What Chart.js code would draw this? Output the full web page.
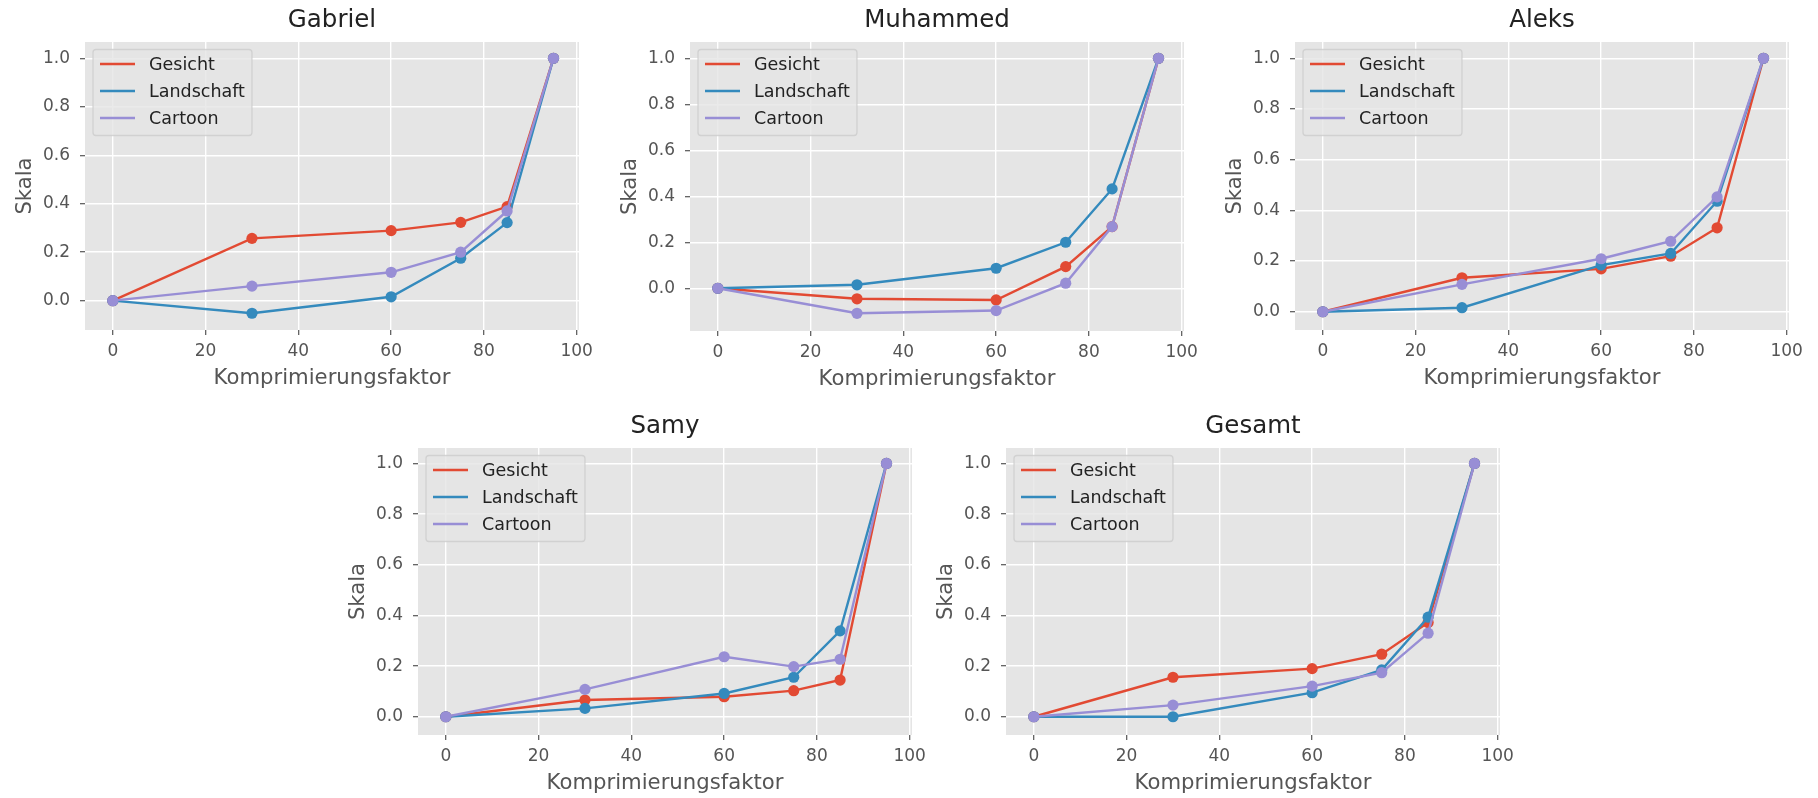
<!DOCTYPE html>
<html><head><meta charset="utf-8">
<script src="https://cdn.jsdelivr.net/npm/chart.js@4/dist/chart.umd.min.js"></script>
<style>
html,body{margin:0;padding:0;background:#fff;width:1818px;height:798px;overflow:hidden;position:relative}
canvas{position:absolute}
</style></head><body>
<canvas id="c0"></canvas><canvas id="c1"></canvas><canvas id="c2"></canvas><canvas id="c3"></canvas><canvas id="c4"></canvas>
<script>
// ---- data ----
const komprimierung = [0, 30, 60, 75, 85, 95];
const serienNamen = ['Gesicht', 'Landschaft', 'Cartoon'];
const titel = ['Gabriel', 'Muhammed', 'Aleks', 'Samy', 'Gesamt'];
const xTicks = [0, 20, 40, 60, 80, 100];
const yTicks = [0, 0.2, 0.4, 0.6, 0.8, 1.0];

const gabrielGesicht     = [0, 0.257, 0.289, 0.323, 0.388, 1.0];
const gabrielLandschaft  = [0, -0.052, 0.016, 0.175, 0.322, 1.0];
const gabrielCartoon     = [0, 0.060, 0.117, 0.200, 0.370, 1.0];
const muhammedGesicht    = [0, -0.046, -0.051, 0.094, 0.268, 1.0];
const muhammedLandschaft = [0, 0.015, 0.087, 0.200, 0.432, 1.0];
const muhammedCartoon    = [0, -0.109, -0.097, 0.022, 0.268, 1.0];
const aleksGesicht       = [0, 0.134, 0.169, 0.219, 0.331, 1.0];
const aleksLandschaft    = [0, 0.016, 0.184, 0.230, 0.436, 1.0];
const aleksCartoon       = [0, 0.108, 0.209, 0.278, 0.453, 1.0];
const samyGesicht        = [0, 0.066, 0.079, 0.103, 0.145, 1.0];
const samyLandschaft     = [0, 0.033, 0.092, 0.156, 0.339, 1.0];
const samyCartoon        = [0, 0.108, 0.237, 0.198, 0.227, 1.0];
const gesamtGesicht      = [0, 0.156, 0.190, 0.247, 0.372, 1.0];
const gesamtLandschaft   = [0, 0.000, 0.095, 0.185, 0.393, 1.0];
const gesamtCartoon      = [0, 0.046, 0.121, 0.174, 0.330, 1.0];

const serienProPanel = [
  [gabrielGesicht, gabrielLandschaft, gabrielCartoon],
  [muhammedGesicht, muhammedLandschaft, muhammedCartoon],
  [aleksGesicht, aleksLandschaft, aleksCartoon],
  [samyGesicht, samyLandschaft, samyCartoon],
  [gesamtGesicht, gesamtLandschaft, gesamtCartoon]
];

// ---- layout / style ----
const farben = ['#E24A33', '#348ABD', '#988ED5'];
const panels = [
  {L: 85,   R: 579,  T: 42,  B: 330, ymin: -0.121, ymax: 1.067},
  {L: 690,  R: 1184, T: 42,  B: 331, ymin: -0.186, ymax: 1.071},
  {L: 1295, R: 1789, T: 42,  B: 330, ymin: -0.072, ymax: 1.064},
  {L: 418,  R: 912,  T: 448, B: 735, ymin: -0.072, ymax: 1.061},
  {L: 1006, R: 1500, T: 448, B: 735, ymin: -0.072, ymax: 1.061}
];
const FONT = "'DejaVu Sans', sans-serif";
Chart.defaults.font.family = FONT;

const bgPlugin = {
  id: 'bg',
  beforeDraw(chart) {
    const {ctx, chartArea: a} = chart;
    ctx.save();
    ctx.fillStyle = '#E5E5E5';
    ctx.fillRect(a.left, a.top, a.right - a.left, a.bottom - a.top);
    ctx.restore();
  }
};

const legendPlugin = {
  id: 'innerLegend',
  afterDatasetsDraw(chart) {
    const {ctx, chartArea: a} = chart;
    const fs = 17.5, pad = 7, handle = 35, gap = 14, pitch = 27;
    ctx.save();
    ctx.font = fs + 'px ' + FONT;
    let tw = 0;
    chart.data.datasets.forEach(d => { tw = Math.max(tw, ctx.measureText(d.label).width); });
    const x = a.left + 8, y = a.top + 7.5;
    const w = pad + handle + gap + tw + pad, h = 86;
    ctx.beginPath();
    if (ctx.roundRect) ctx.roundRect(x, y, w, h, 3); else ctx.rect(x, y, w, h);
    ctx.fillStyle = 'rgba(229,229,229,0.8)';
    ctx.fill();
    ctx.strokeStyle = 'rgba(204,204,204,0.8)';
    ctx.lineWidth = 1.3;
    ctx.stroke();
    chart.data.datasets.forEach((d, i) => {
      const cy = y + 14.5 + i * pitch;
      ctx.beginPath();
      ctx.moveTo(x + pad, cy);
      ctx.lineTo(x + pad + handle, cy);
      ctx.strokeStyle = d.borderColor;
      ctx.lineWidth = 2.4;
      ctx.stroke();
      ctx.fillStyle = '#222';
      ctx.textAlign = 'left';
      ctx.textBaseline = 'middle';
      ctx.fillText(d.label, x + pad + handle + gap, cy + 1);
    });
    ctx.restore();
  }
};

const A = 85, RP = 30, D = 64, TOPH = 42;
panels.forEach((p, idx) => {
  const cv = document.getElementById('c' + idx);
  const w = p.R - p.L + A + RP, h = p.B - p.T + TOPH + D;
  cv.width = w; cv.height = h;
  cv.style.left = (p.L - A) + 'px';
  cv.style.top = (p.T - TOPH) + 'px';
  cv.style.width = w + 'px';
  cv.style.height = h + 'px';

  const datasets = serienProPanel[idx].map((werte, i) => ({
    label: serienNamen[i],
    data: komprimierung.map((k, j) => ({x: k, y: werte[j]})),
    borderColor: farben[i],
    backgroundColor: farben[i],
    pointBackgroundColor: farben[i],
    pointBorderWidth: 0,
    pointRadius: 5.6,
    borderWidth: 2.4,
    tension: 0,
    fill: false,
    order: 2 - i
  }));

  new Chart(cv, {
    type: 'line',
    data: {datasets},
    plugins: [bgPlugin, legendPlugin],
    options: {
      responsive: false,
      animation: false,
      devicePixelRatio: 1,
      layout: {padding: {left: 0, right: RP, top: 0, bottom: 0}},
      plugins: {
        legend: {display: false},
        tooltip: {enabled: false},
        title: {
          display: true, text: titel[idx], fullSize: false,
          color: '#222', font: {size: 24.5, weight: 'normal', lineHeight: 1.2},
          padding: {top: 6, bottom: 6.6}
        }
      },
      scales: {
        x: {
          type: 'linear', min: -6, max: 100.5,
          afterBuildTicks: s => { s.ticks = xTicks.map(v => ({value: v})); },
          afterFit: s => { s.height = D; },
          ticks: {color: '#555', font: {size: 17}, padding: 6, maxRotation: 0, autoSkip: false,
                  callback: v => String(v)},
          grid: {color: '#ffffff', lineWidth: 1.4, tickColor: '#555', tickLength: 5, tickWidth: 1.2},
          border: {display: false},
          title: {display: true, text: 'Komprimierungsfaktor', color: '#555',
                  font: {size: 21.2, lineHeight: 1.2}, padding: {top: 0, bottom: 2.4}}
        },
        y: {
          type: 'linear', min: p.ymin, max: p.ymax,
          afterBuildTicks: s => { s.ticks = yTicks.map(v => ({value: v})); },
          afterFit: s => { s.width = A; },
          ticks: {color: '#555', font: {size: 17}, padding: 10, autoSkip: false,
                  callback: v => Number(v).toFixed(1)},
          grid: {color: '#ffffff', lineWidth: 1.4, tickColor: '#555', tickLength: 5, tickWidth: 1.2},
          border: {display: false},
          title: {display: true, text: 'Skala', color: '#555',
                  font: {size: 21.2, lineHeight: 1.2}, padding: {top: 12.4, bottom: 0}}
        }
      }
    }
  });
});
</script>
</body></html>
